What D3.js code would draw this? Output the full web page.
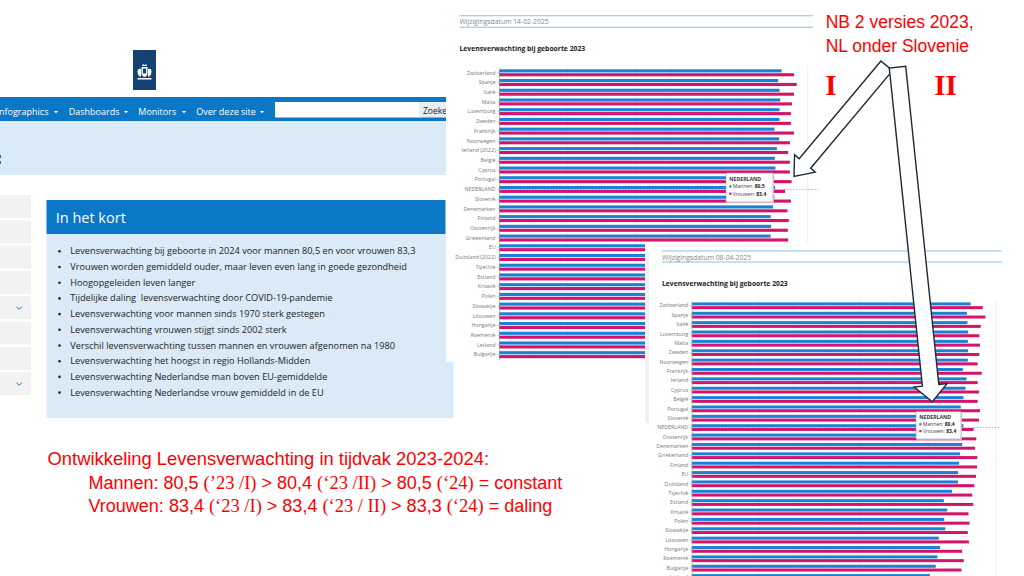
<!DOCTYPE html>
<html>
<head>
<meta charset="utf-8">
<script src="https://cdn.jsdelivr.net/npm/d3@7"></script>
<style>
  body { margin: 0; background: #fff; }
  svg { display: block; }
</style>
</head>
<body>
<div id="chart"></div>
<script>
// ---- data ----
var navItems = ["Infographics", "Dashboards", "Monitors", "Over deze site"];

var bullets = [
  "Levensverwachting bij geboorte in 2024 voor mannen 80,5 en voor vrouwen 83,3",
  "Vrouwen worden gemiddeld ouder, maar leven even lang in goede gezondheid",
  "Hoogopgeleiden leven langer",
  "Tijdelijke daling  levensverwachting door COVID-19-pandemie",
  "Levensverwachting voor mannen sinds 1970 sterk gestegen",
  "Levensverwachting vrouwen stijgt sinds 2002 sterk",
  "Verschil levensverwachting tussen mannen en vrouwen afgenomen na 1980",
  "Levensverwachting het hoogst in regio Hollands-Midden",
  "Levensverwachting Nederlandse man boven EU-gemiddelde",
  "Levensverwachting Nederlandse vrouw gemiddeld in de EU"
];

// versie I (14-02-2025)
var countriesI = ["Zwitserland", "Spanje", "Italië", "Malta", "Luxemburg", "Zweden", "Frankrijk",
  "Noorwegen", "Ierland (2022)", "België", "Cyprus", "Portugal", "NEDERLAND", "Slovenië",
  "Denemarken", "Finland", "Oostenrijk", "Griekenland", "EU", "Duitsland (2022)", "Tsjechië",
  "Estland", "Kroatië", "Polen", "Slowakije", "Litouwen", "Hongarije", "Roemenië", "Letland", "Bulgarije"];
var menI = [82.4, 81.4, 81.8, 82.0, 81.8, 81.8, 80.3, 81.7, 81.0, 80.4, 80.6, 80.2, 80.5, 80.3,
  79.9, 79.2, 79.3, 79.2, 78.8, 78.4, 77.0, 74.6, 75.6, 74.7, 75.0, 73.1, 73.5, 72.7, 70.5, 72.2];
var womenI = [86.0, 86.8, 86.0, 85.4, 85.1, 85.1, 86.0, 84.8, 84.3, 84.8, 84.8, 85.3, 83.4, 85.1,
  84.1, 84.5, 84.2, 84.3, 84.1, 83.3, 83.0, 83.3, 81.9, 82.2, 81.7, 82.0, 80.0, 80.5, 79.7, 79.8];

// versie II (08-04-2025)
var countriesII = ["Zwitserland", "Spanje", "Italië", "Luxemburg", "Malta", "Zweden", "Noorwegen",
  "Frankrijk", "Ierland", "Cyprus", "België", "Portugal", "Slovenië", "NEDERLAND", "Oostenrijk",
  "Denemarken", "Griekenland", "Finland", "EU", "Duitsland", "Tsjechië", "Estland", "Kroatië",
  "Polen", "Slowakije", "Litouwen", "Hongarije", "Roemenië", "Bulgarije", "Letland"];
var menII = [82.5, 81.4, 81.6, 81.8, 81.7, 81.8, 81.7, 80.2, 81.3, 81.0, 80.4, 79.6, 79.9, 80.4,
  79.4, 80.0, 79.4, 79.1, 78.8, 78.8, 77.0, 74.6, 75.6, 74.7, 75.0, 73.1, 73.5, 72.7, 72.2, 70.5];
var womenII = [86.1, 86.9, 85.5, 85.1, 85.3, 85.1, 84.6, 85.8, 84.6, 85.0, 84.6, 85.3, 85.0, 83.4,
  84.2, 83.8, 84.5, 84.4, 84.1, 83.6, 83.0, 83.3, 81.9, 82.2, 81.7, 82.0, 80.0, 80.5, 79.8, 79.7];

var chartTitle = "Levensverwachting bij geboorte 2023";
var tipI = { name: "NEDERLAND", men: "80,5", women: "83,4" };
var tipII = { name: "NEDERLAND", men: "80,4", women: "83,4" };

var noteTop = ["NB 2 versies 2023,", "NL onder Slovenie"];
var noteBottom = [
  [["Ontwikkeling Levensverwachting in tijdvak 2023-2024:", 0]],
  [["Mannen: 80,5 ", 0], ["(’23 /I)", 1], [" > 80,4 ", 0], ["(‘23 /II)", 1], [" > 80,5 ", 0], ["(‘24)", 1], [" = constant", 0]],
  [["Vrouwen: 83,4 ", 0], ["(‘23 /I)", 1], [" > 83,4 ", 0], ["(‘23 / II)", 1], [" > 83,3 ", 0], ["(‘24)", 1], [" = daling", 0]]
];

// ---- drawing ----
var W = 1024, H = 576;
var BLUE = "#1c80d4", PINK = "#d3146a", SITE = "#0a77c7", PALE = "#dbeaf7";
var SANS = "'Open Sans', 'Noto Sans', sans-serif";

var svg = d3.select("#chart").append("svg")
  .attr("width", W).attr("height", H)
  .style("font-family", SANS);

// website screenshot
var site = svg.append("g");

// logo
site.append("rect").attr("x", 133).attr("y", 50).attr("width", 23).attr("height", 40).attr("fill", "#154273");
var em = site.append("g").attr("transform", "translate(144.5,73)").attr("fill", "#fff");
em.append("path").attr("d", "M-2.5,-7 L-1.5,-9 L0,-7.8 L1.5,-9 L2.5,-7 Z");
em.append("path").attr("d", "M-3,-6 H3 V0 Q3,3 0,4 Q-3,3 -3,0 Z");
em.append("path").attr("d", "M-3.5,-4 Q-7,-5 -7,-1 Q-6.5,3 -4,4 L-3.5,2 Z");
em.append("path").attr("d", "M3.5,-4 Q7,-5 7,-1 Q6.5,3 4,4 L3.5,2 Z");
em.append("rect").attr("x", -7).attr("y", 5).attr("width", 14).attr("height", 1.5);
em.append("rect").attr("x", -1.6).attr("y", -4.5).attr("width", 3.2).attr("height", 5).attr("fill", "#154273");

// nav bar
site.append("rect").attr("x", 0).attr("y", 97).attr("width", 446).attr("height", 24).attr("fill", SITE);
var navX = [-3.5, 68.7, 138.3, 196.3];
var caretX = [56, 126, 184, 262];
site.selectAll(".nav").data(navItems).enter().append("text")
  .attr("x", function(d, i) { return navX[i]; })
  .attr("y", 115)
  .attr("fill", "#fff")
  .style("font-size", "9px")
  .text(function(d) { return d; });
site.selectAll(".caret").data(caretX).enter().append("path")
  .attr("d", function(d) { return "M" + (d - 2) + ",111 h4 l-2,2.2 z"; })
  .attr("fill", "#fff");
site.append("rect").attr("x", 275).attr("y", 102).attr("width", 145).attr("height", 15.5).attr("fill", "#fff");
site.append("rect").attr("x", 419).attr("y", 102).attr("width", 27).attr("height", 15.5).attr("fill", "#e9eef3");
site.append("text").attr("x", 423).attr("y", 113.5).attr("fill", "#222")
  .style("font-size", "8.5px").text("Zoeken");

// breadcrumb band
site.append("rect").attr("x", 0).attr("y", 121).attr("width", 446).attr("height", 54).attr("fill", PALE);
site.append("rect").attr("x", 0).attr("y", 155).attr("width", 1).attr("height", 3).attr("fill", SITE);
site.append("rect").attr("x", 0).attr("y", 161).attr("width", 1).attr("height", 3).attr("fill", SITE);

// left menu
var menuRows = d3.range(8);
site.selectAll(".menu").data(menuRows).enter().append("rect")
  .attr("x", 0).attr("y", function(d) { return 195 + d * 25.3; })
  .attr("width", 31).attr("height", 23).attr("fill", "#f2f2f2");
site.selectAll(".chev").data([4, 7]).enter().append("path")
  .attr("d", function(d) { var y = 195 + d * 25.3 + 10.5; return "M16.5," + y + " l2.7,2.7 l2.7,-2.7"; })
  .attr("fill", "none").attr("stroke", SITE).attr("stroke-width", 1);

// "In het kort"
site.append("rect").attr("x", 46.5).attr("y", 234).attr("width", 407).attr("height", 184).attr("fill", PALE);
site.append("rect").attr("x", 46.5).attr("y", 200).attr("width", 399).attr("height", 34).attr("fill", SITE);
site.append("text").attr("x", 55.7).attr("y", 222.5).attr("fill", "#fff")
  .style("font-size", "14.5px").text("In het kort");
var li = site.selectAll(".li").data(bullets).enter().append("g")
  .attr("transform", function(d, i) { return "translate(0," + (254.3 + i * 15.7) + ")"; });
li.append("circle").attr("cx", 59.5).attr("cy", -3).attr("r", 1.3).attr("fill", "#222");
li.append("text").attr("x", 70.3).attr("fill", "#222")
  .style("font-size", "9.2px").style("white-space", "pre")
  .text(function(d) { return d; });

// ---- bar chart screenshots ----
function drawHeader(g, o) {
  g.append("line").attr("x1", o.x1).attr("x2", o.x2).attr("y1", o.line1).attr("y2", o.line1)
    .attr("stroke", "#8cc2ea").attr("stroke-width", 1.1);
  g.append("line").attr("x1", o.x1).attr("x2", o.x2).attr("y1", o.line2).attr("y2", o.line2)
    .attr("stroke", "#8cc2ea").attr("stroke-width", 1.1);
  g.append("text").attr("x", o.x1).attr("y", o.line1 + 8.6).attr("fill", "#888")
    .style("font-size", "6.8px").text("Wijzigingsdatum " + o.date);
  g.append("text").attr("x", o.x1).attr("y", o.titleY).attr("fill", "#222")
    .style("font-size", "6.8px").style("font-weight", "bold").text(chartTitle);
}

function drawChart(g, o) {
  var x = d3.scaleLinear().domain([0, 90]).range([o.left, o.left + 90 * o.unit]);
  var y = d3.scaleBand().domain(o.countries)
    .range([o.top, o.top + o.countries.length * o.step])
    .paddingInner(0.28).paddingOuter(0.14);
  var sub = d3.scaleBand().domain(["m", "v"]).range([0, y.bandwidth()]).paddingInner(0.2);
  var y0 = y.range()[0] - 2, y1 = y.range()[1];

  g.selectAll(".grid").data(x.ticks(9).slice(1)).enter().append("line")
    .attr("x1", function(d) { return x(d); }).attr("x2", function(d) { return x(d); })
    .attr("y1", y0).attr("y2", y1)
    .attr("stroke", function(d) { return d === 90 ? "#e2e2e2" : "#ececec"; })
    .attr("stroke-width", 0.6);

  // hover line of the highlighted row
  var hy = y(o.highlight) + y.bandwidth() / 2;
  g.append("line").attr("x1", o.left).attr("x2", o.dashEnd).attr("y1", hy).attr("y2", hy)
    .attr("stroke", "#999").attr("stroke-width", 0.7).attr("stroke-dasharray", "1.6,1.4");

  var rows = g.selectAll(".row").data(o.countries).enter().append("g")
    .attr("transform", function(d) { return "translate(0," + y(d) + ")"; });
  rows.append("rect")
    .attr("x", x(0)).attr("y", sub("m")).attr("height", sub.bandwidth())
    .attr("width", function(d, i) { return x(o.men[i]) - x(0); })
    .attr("fill", BLUE);
  rows.append("rect")
    .attr("x", x(0)).attr("y", sub("v")).attr("height", sub.bandwidth())
    .attr("width", function(d, i) { return x(o.women[i]) - x(0); })
    .attr("fill", PINK);

  var ax = g.append("g").attr("transform", "translate(" + o.left + ",0)")
    .call(d3.axisLeft(y).tickSize(2).tickSizeOuter(0).tickPadding(1.5));
  ax.select(".domain").attr("stroke", "#999").attr("stroke-width", 0.6);
  ax.selectAll(".tick line").attr("stroke", "#999").attr("stroke-width", 0.5);
  ax.selectAll(".tick text").attr("fill", "#777")
    .style("font-size", "5.3px").style("font-family", SANS);
  return { x: x, y: y };
}

function drawTip(g, o, t) {
  g.append("rect").attr("x", o.x + 0.8).attr("y", o.y + 0.8).attr("width", o.w).attr("height", o.h)
    .attr("fill", "#ddd");
  g.append("rect").attr("x", o.x).attr("y", o.y).attr("width", o.w).attr("height", o.h)
    .attr("fill", "#fff").attr("stroke", "#999").attr("stroke-width", 0.6);
  g.append("text").attr("x", o.x + 3.3).attr("y", o.y + o.h * 0.28).attr("fill", "#333")
    .style("font-size", "5.2px").style("font-weight", "bold").text(t.name);
  var items = [["Mannen: ", t.men, BLUE], ["Vrouwen: ", t.women, PINK]];
  items.forEach(function(it, i) {
    var ty = o.y + o.h * (0.53 + i * 0.25);
    g.append("rect").attr("x", o.x + 3.3).attr("y", ty - 3).attr("width", 2.2).attr("height", 2.2).attr("fill", it[2]);
    var tx = g.append("text").attr("x", o.x + 6.8).attr("y", ty).attr("fill", "#444").style("font-size", "5px");
    tx.append("tspan").text(it[0]);
    tx.append("tspan").style("font-weight", "bold").attr("fill", "#222").text(it[1]);
  });
}

// chart I
var c1 = svg.append("g");
c1.append("rect").attr("x", 446).attr("y", 0).attr("width", 378).attr("height", 362).attr("fill", "#fff");
drawHeader(c1, { x1: 459.5, x2: 813, line1: 15.7, line2: 27.3, date: "14-02-2025", titleY: 50.5 });
drawChart(c1, { countries: countriesI, men: menI, women: womenI, left: 499, unit: 3.43,
  top: 67.94, step: 9.72, highlight: "NEDERLAND", dashEnd: 818 });
drawTip(c1, { x: 726, y: 173, w: 47, h: 29 }, tipI);

// chart II, pasted over the lower right of chart I
var c2 = svg.append("g");
c2.append("rect").attr("x", 645).attr("y", 243).attr("width", 379).attr("height", 333).attr("fill", "#fff");
c2.append("rect").attr("x", 645).attr("y", 253).attr("width", 4).attr("height", 170).attr("fill", "#f1f1f1");
drawHeader(c2, { x1: 662, x2: 1002, line1: 251, line2: 262, date: "08-04-2025", titleY: 285.5 });
drawChart(c2, { countries: countriesII, men: menII, women: womenII, left: 691.7, unit: 3.38,
  top: 301.1, step: 9.37, highlight: "NEDERLAND", dashEnd: 1000 });
drawTip(c2, { x: 916, y: 411.7, w: 45, h: 27.3 }, tipII);

// ---- annotations ----
var RED = "#ff0000";
var notes = svg.append("g").attr("fill", RED).style("font-family", "'Liberation Sans', Arial, sans-serif");
notes.selectAll(".nt").data(noteTop).enter().append("text")
  .attr("x", 825.7).attr("y", function(d, i) { return 28 + i * 24; })
  .style("font-size", "17.5px").text(function(d) { return d; });

var romans = [["I", 831], ["II", 945.5]];
notes.selectAll(".rn").data(romans).enter().append("text")
  .attr("x", function(d) { return d[1]; }).attr("y", 94.5)
  .attr("text-anchor", "middle")
  .style("font-family", "'Liberation Serif', 'Times New Roman', serif")
  .style("font-weight", "bold").style("font-size", "29px")
  .text(function(d) { return d[0]; });

var nbX = [47.5, 88.5, 88.5], nbY = [465, 488.5, 512], nbSize = [18.4, 18, 18];
noteBottom.forEach(function(line, i) {
  var t = notes.append("text").attr("x", nbX[i]).attr("y", nbY[i])
    .style("font-size", nbSize[i] + "px").style("white-space", "pre");
  line.forEach(function(seg) {
    var s = t.append("tspan").text(seg[0]);
    if (seg[1]) s.style("font-family", "'Liberation Serif', 'Times New Roman', serif").style("font-size", "18.5px");
  });
});

// block arrows
var arrows = [
  { tail: [886.7, 65.8], tip: [794, 176.5], shaft: 15, head: 27, headLen: 17 },
  { tail: [897.5, 67.2], tip: [932.3, 401.7], shaft: 16.5, head: 33, headLen: 16.5 }
];
function arrowPath(a) {
  var dx = a.tip[0] - a.tail[0], dy = a.tip[1] - a.tail[1];
  var len = Math.sqrt(dx * dx + dy * dy), ux = dx / len, uy = dy / len, px = -uy, py = ux;
  var bx = a.tip[0] - ux * a.headLen, by = a.tip[1] - uy * a.headLen;
  function p(cx, cy, s) { return [cx + px * s, cy + py * s]; }
  return [p(a.tail[0], a.tail[1], a.shaft / 2), p(bx, by, a.shaft / 2), p(bx, by, a.head / 2), a.tip,
    p(bx, by, -a.head / 2), p(bx, by, -a.shaft / 2), p(a.tail[0], a.tail[1], -a.shaft / 2)];
}
svg.selectAll(".arrow").data(arrows).enter().append("path")
  .attr("d", function(d) { return d3.line()(arrowPath(d)) + "Z"; })
  .attr("fill", "#fff").attr("stroke", "#1d2b38").attr("stroke-width", 1.4)
  .attr("stroke-linejoin", "miter");
</script>
</body>
</html>
